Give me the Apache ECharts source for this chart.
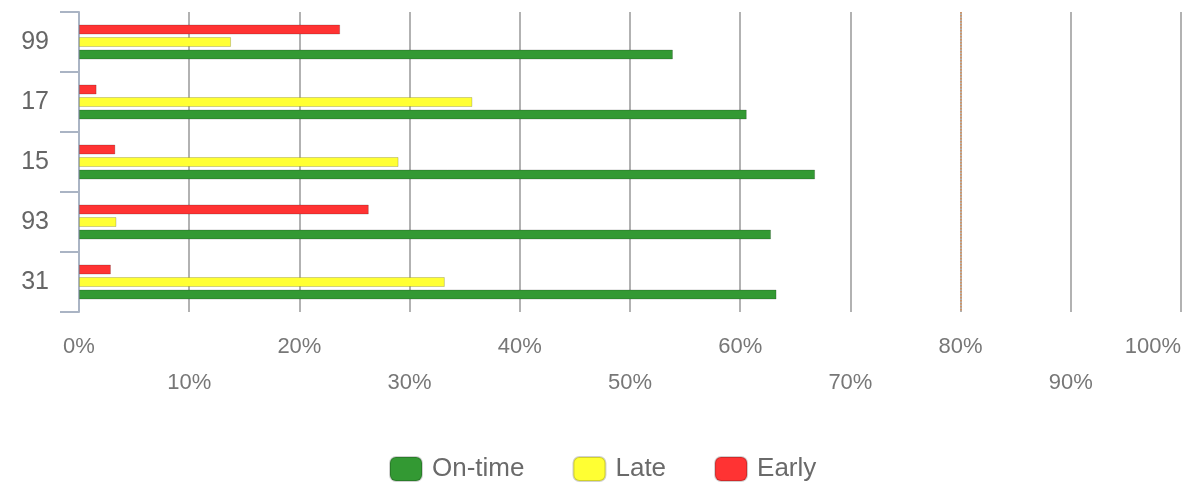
<!DOCTYPE html>
<html>
<head>
<meta charset="utf-8">
<script src="https://cdn.jsdelivr.net/npm/echarts@6/dist/echarts.min.js"></script>
<style>
  html, body { margin: 0; padding: 0; background: #fff; }
  #chart { width: 1192px; height: 491px; }
</style>
</head>
<body>
<div id="chart"></div>
<script>
// categories, top to bottom
const routes = ['99', '17', '15', '93', '31'];
const onTime = [53.9, 60.6, 66.8, 62.8, 63.3];
const late = [13.8, 35.7, 29.0, 3.4, 33.2];
const early = [23.7, 1.6, 3.3, 26.3, 2.9];
const targetLine = 80;

const chart = echarts.init(document.getElementById('chart'));

const barStyle = (color) => ({
  color: color,
  borderColor: 'rgba(0,0,0,0.18)',
  borderWidth: 1
});

const option = {
  animation: false,
  textStyle: { fontFamily: 'Liberation Sans, Arial, sans-serif' },
  grid: { left: 79, right: 11, top: 12, height: 300, outerBoundsMode: 'none' },
  legend: {
    top: 451,
    left: 384,
    itemWidth: 32,
    itemHeight: 24,
    itemGap: 48,
    textStyle: { fontSize: 26, color: '#6a6a6a', padding: [0, 0, 0, 5] },
    data: ['On-time', 'Late', 'Early']
  },
  xAxis: {
    type: 'value',
    min: 0,
    max: 100,
    interval: 10,
    axisLine: { show: false },
    axisTick: { show: false },
    splitLine: { lineStyle: { color: '#b2b2b2', width: 2 } },
    axisLabel: {
      color: '#777',
      fontSize: 22,
      lineHeight: 36,
      margin: 17,
      alignMaxLabel: 'right',
      formatter: (v) => (v / 10) % 2 ? '\n' + v + '%' : v + '%'
    }
  },
  yAxis: {
    type: 'category',
    inverse: true,
    data: routes,
    axisLine: { lineStyle: { color: '#aab4c4', width: 2 } },
    axisTick: { show: true, length: 19, lineStyle: { color: '#aab4c4', width: 2 } },
    axisLabel: { color: '#666', fontSize: 25, margin: 30 }
  },
  series: [
    {
      name: 'Early', type: 'bar', barWidth: 10, barGap: '25%',
      itemStyle: barStyle('#ff3333'), data: early,
      markLine: {
        silent: true, symbol: 'none', label: { show: false },
        lineStyle: { color: '#d98c50', type: 'dotted', width: 1.5 },
        data: [{ xAxis: targetLine }]
      }
    },
    { name: 'Late', type: 'bar', barWidth: 10, barGap: '25%', itemStyle: barStyle('#ffff33'), data: late },
    { name: 'On-time', type: 'bar', barWidth: 10, barGap: '25%', itemStyle: barStyle('#339933'), data: onTime }
  ]
};

chart.setOption(option);
</script>
</body>
</html>
